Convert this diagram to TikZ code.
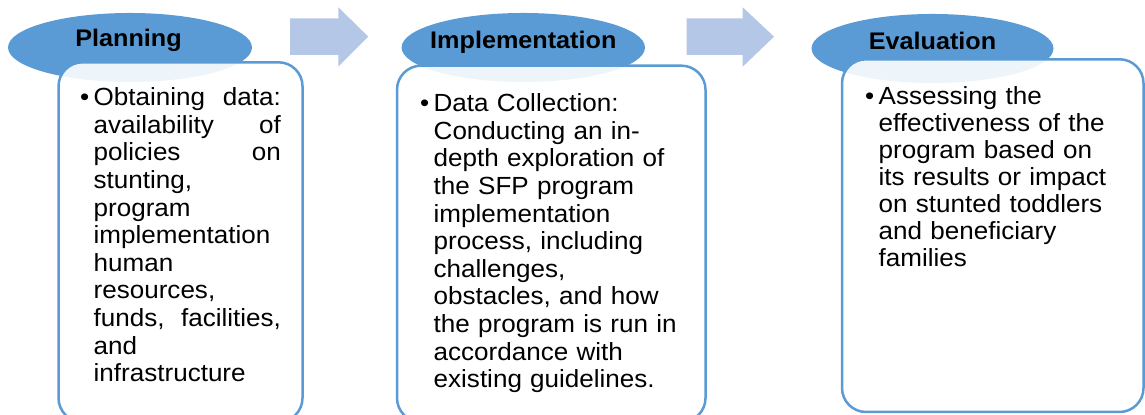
\documentclass[tikz,border=0pt]{standalone}
\usepackage{fontspec}
\newfontfamily\smartfont[FakeStretch=1.05]{Liberation Sans}
\usetikzlibrary{positioning}
\setlength{\parindent}{0pt}
\definecolor{accentblue}{RGB}{91,155,213}
\definecolor{arrowblue}{RGB}{180,199,231}
\newcommand{\stepbullet}{\llap{\textbullet\hspace{2.2pt}}}
\tikzset{
  phase/.style={fill=accentblue},
  phasetitle/.style={font=\smartfont\fontsize{12}{14}\selectfont\bfseries, inner sep=0pt, anchor=base},
  stepbox/.style={draw=accentblue, line width=1.25pt, fill=white, fill opacity=0.9, rounded corners=12pt},
  steptext/.style={font=\smartfont\fontsize{12.4}{13.8}\selectfont, inner sep=0pt, anchor=base west},
  flow/.style={fill=arrowblue}
}

\begin{document}
\begin{tikzpicture}[x=0.5pt,y=0.5pt]
  \useasboundingbox (0,0) rectangle (1145,415);
  \clip (0,0) rectangle (1145,415);
  % phase ellipses
  \fill[phase] (130,367.5) ellipse [x radius=122, y radius=34.5];
  \fill[phase] (523.3,367.5) ellipse [x radius=121.7, y radius=34.5];
  \fill[phase] (932.5,366.5) ellipse [x radius=121, y radius=34.5];
  \node[phasetitle] (plan) at (128.5,368.3) {Planning};
  \node[phasetitle] (impl) at (523.3,366.7) {Implementation};
  \node[phasetitle] (eval) at (932.5,365) {Evaluation};
  % block arrows between phases
  \fill[flow] (290,396.7) -- (338.3,396.7) -- (338.3,407.7) -- (368.3,378.3)
    -- (338.3,348.3) -- (338.3,360) -- (290,360) -- cycle;
  \fill[flow] (686.7,396.7) -- (742.7,396.7) -- (742.7,407.7) -- (774,378.3)
    -- (742.7,348.3) -- (742.7,360) -- (686.7,360) -- cycle;
  % boxes over the lower half of the ellipses
  \draw[stepbox] (58.5,-7) rectangle (302.5,352.7);
  \draw[stepbox] (397,-7) rectangle (705.5,349.3);
  \draw[stepbox] (842,3) rectangle (1143.5,355.7);
  % box contents
  \node[steptext, text width=93.6pt] (plantext) at (93.3,309.3) {%
    \stepbullet Obtaining\hfill data:\\
    availability\hfill of\\
    policies\hfill on\\
    stunting,\\
    program\\
    implementation\\
    human\\
    resources,\\
    funds,\hfill facilities,\\
    and\\
    infrastructure};
  \node[steptext, text width=135pt] (impltext) at (433.3,303.3) {%
    \stepbullet Data Collection:\\
    Conducting an in-\\
    depth exploration of\\
    the SFP program\\
    implementation\\
    process, including\\
    challenges,\\
    obstacles, and how\\
    the program is run in\\
    accordance with\\
    existing guidelines.};
  \node[steptext, text width=128pt, font=\smartfont\fontsize{12.4}{13.5}\selectfont] (evaltext) at (878.3,310.7) {%
    \stepbullet Assessing the\\
    effectiveness of the\\
    program based on\\
    its results or impact\\
    on stunted toddlers\\
    and beneficiary\\
    families};
\end{tikzpicture}
\end{document}
